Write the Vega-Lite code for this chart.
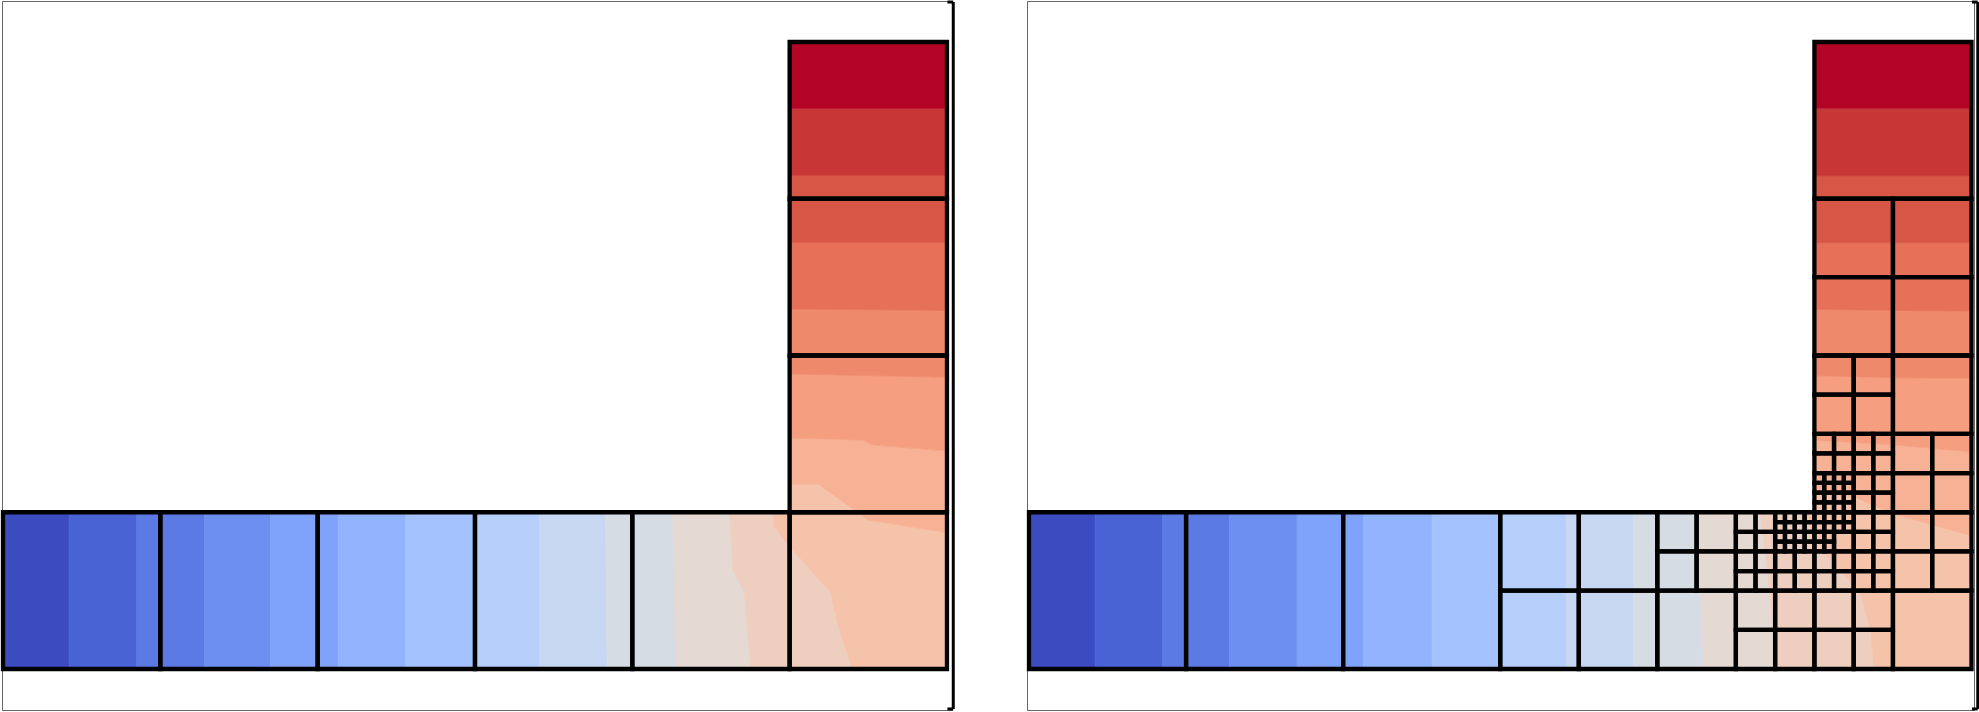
{
  "$schema": "https://vega.github.io/schema/vega-lite/v6.json",
  "padding": {"left": 0, "top": 0, "right": 0, "bottom": 0},
  "background": "white",
  "bounds": "flush",
  "spacing": 75,
  "config": {"view": {"stroke": "#666666", "strokeWidth": 1}},
  "resolve": {"scale": {"x": "independent", "y": "independent", "color": "independent", "stroke": "independent"}},
  "datasets": {
    "bandsA_L": [
      {"k":0,"y":0,"x":0,"x2":0.42},{"k":0,"y":1,"x":0,"x2":0.42},
      {"k":1,"y":0,"x":0.42,"x2":0.85},{"k":1,"y":1,"x":0.42,"x2":0.85},
      {"k":2,"y":0,"x":0.85,"x2":1.28},{"k":2,"y":1,"x":0.85,"x2":1.28},
      {"k":3,"y":0,"x":1.28,"x2":1.70},{"k":3,"y":1,"x":1.28,"x2":1.70},
      {"k":4,"y":0,"x":1.70,"x2":2.13},{"k":4,"y":1,"x":1.70,"x2":2.13},
      {"k":5,"y":0,"x":2.13,"x2":2.56},{"k":5,"y":1,"x":2.13,"x2":2.56},
      {"k":6,"y":0,"x":2.56,"x2":3.0},{"k":6,"y":1,"x":2.56,"x2":3.0},
      {"k":7,"y":0,"x":3.0,"x2":3.41},{"k":7,"y":1,"x":3.0,"x2":3.41},
      {"k":8,"y":0,"x":3.41,"x2":3.84},{"k":8,"y":1,"x":3.41,"x2":3.83},
      {"k":9,"y":0,"x":3.84,"x2":4.278},{"k":9,"y":1,"x":3.83,"x2":4.256},
      {"k":10,"y":0,"x":4.278,"x2":4.754},{"k":10,"y":0.5,"x":4.267,"x2":4.71},{"k":10,"y":0.63,"x":4.264,"x2":4.64},{"k":10,"y":1,"x":4.256,"x2":4.617},
      {"k":11,"y":0,"x":4.754,"x2":5.4},{"k":11,"y":0.29,"x":4.728,"x2":5.305},{"k":11,"y":0.49,"x":4.711,"x2":5.26},{"k":11,"y":0.63,"x":4.64,"x2":5.134},{"k":11,"y":0.78,"x":4.631,"x2":5.0},{"k":11,"y":0.91,"x":4.623,"x2":4.9},{"k":11,"y":1,"x":4.617,"x2":4.9}
    ],
    "bandsB_L": [
      {"k":12,"x":4.9,"y":0.91,"y2":1},{"k":12,"x":5.0,"y":0.78,"y2":1},{"k":12,"x":5.002,"y":0.778,"y2":1.18},{"k":12,"x":5.18,"y":0.579,"y2":1.18},{"k":12,"x":5.26,"y":0.49,"y2":1.1225},{"k":12,"x":5.305,"y":0.29,"y2":1.09},{"k":12,"x":5.4,"y":0,"y2":1.022},{"k":12,"x":5.5,"y":0,"y2":0.95},{"k":12,"x":6,"y":0,"y2":0.87},
      {"k":13,"x":5.0,"y":1.18,"y2":1.473},{"k":13,"x":5.18,"y":1.18,"y2":1.468},{"k":13,"x":5.47,"y":0.972,"y2":1.46},{"k":13,"x":5.5,"y":0.95,"y2":1.442},{"k":13,"x":5.52,"y":0.947,"y2":1.43},{"k":13,"x":6,"y":0.87,"y2":1.39},
      {"k":14,"x":5,"y":1.473,"y2":1.882},{"k":14,"x":5.47,"y":1.46,"y2":1.872},{"k":14,"x":5.52,"y":1.43,"y2":1.871},{"k":14,"x":6,"y":1.39,"y2":1.861},
      {"k":15,"x":5,"y":1.882,"y2":2.297},{"k":15,"x":6,"y":1.861,"y2":2.287},
      {"k":16,"x":5,"y":2.297,"y2":2.722},{"k":16,"x":6,"y":2.287,"y2":2.722},
      {"k":17,"x":5,"y":2.722,"y2":3.151},{"k":17,"x":6,"y":2.722,"y2":3.151},
      {"k":18,"x":5,"y":3.151,"y2":3.577},{"k":18,"x":6,"y":3.151,"y2":3.577},
      {"k":19,"x":5,"y":3.577,"y2":4},{"k":19,"x":6,"y":3.577,"y2":4}
    ],
    "cells_L": [
      {"x0":0,"x1":1,"y0":0,"y1":1},{"x0":1,"x1":2,"y0":0,"y1":1},{"x0":2,"x1":3,"y0":0,"y1":1},
      {"x0":3,"x1":4,"y0":0,"y1":1},{"x0":4,"x1":5,"y0":0,"y1":1},{"x0":5,"x1":6,"y0":0,"y1":1},
      {"x0":5,"x1":6,"y0":1,"y1":2},{"x0":5,"x1":6,"y0":2,"y1":3},{"x0":5,"x1":6,"y0":3,"y1":4}
    ],
    "bandsA_R": [
      {"k":0,"y":0,"x":0,"x2":0.421},{"k":0,"y":1,"x":0,"x2":0.421},
      {"k":1,"y":0,"x":0.421,"x2":0.85},{"k":1,"y":1,"x":0.421,"x2":0.85},
      {"k":2,"y":0,"x":0.85,"x2":1.276},{"k":2,"y":1,"x":0.85,"x2":1.276},
      {"k":3,"y":0,"x":1.276,"x2":1.706},{"k":3,"y":1,"x":1.276,"x2":1.706},
      {"k":4,"y":0,"x":1.706,"x2":2.128},{"k":4,"y":1,"x":1.706,"x2":2.128},
      {"k":5,"y":0,"x":2.128,"x2":2.566},{"k":5,"y":1,"x":2.128,"x2":2.566},
      {"k":6,"y":0,"x":2.566,"x2":3.0},{"k":6,"y":1,"x":2.566,"x2":3.0},
      {"k":7,"y":0,"x":3.0,"x2":3.42},{"k":7,"y":1,"x":3.0,"x2":3.419},
      {"k":8,"y":0,"x":3.42,"x2":3.847},{"k":8,"y":1,"x":3.419,"x2":3.847},
      {"k":9,"y":0,"x":3.847,"x2":4.295},{"k":9,"y":0.5,"x":3.847,"x2":4.275},{"k":9,"y":1,"x":3.847,"x2":4.25},
      {"k":10,"y":0,"x":4.295,"x2":4.75},{"k":10,"y":0.25,"x":4.285,"x2":4.74},{"k":10,"y":0.5,"x":4.275,"x2":4.715},{"k":10,"y":1,"x":4.25,"x2":4.655},
      {"k":11,"y":0,"x":4.75,"x2":5.38},{"k":11,"y":0.23,"x":4.741,"x2":5.36},{"k":11,"y":0.5,"x":4.715,"x2":5.29},{"k":11,"y":0.75,"x":4.685,"x2":5.05},{"k":11,"y":1,"x":4.655,"x2":4.93}
    ],
    "bandsB_R": [
      {"k":12,"x":4.93,"y":0.999,"y2":1},{"k":12,"x":5.0,"y":0.854,"y2":1},{"k":12,"x":5.002,"y":0.85,"y2":1.12},{"k":12,"x":5.05,"y":0.75,"y2":1.116},{"k":12,"x":5.25,"y":0.542,"y2":1.1},{"k":12,"x":5.29,"y":0.5,"y2":1.083},{"k":12,"x":5.36,"y":0.23,"y2":1.055},{"k":12,"x":5.38,"y":0,"y2":1.047},{"k":12,"x":5.5,"y":0,"y2":0.99},{"k":12,"x":6,"y":0,"y2":0.85},
      {"k":13,"x":5,"y":1.12,"y2":1.46},{"k":13,"x":5.25,"y":1.1,"y2":1.445},{"k":13,"x":5.5,"y":0.99,"y2":1.43},{"k":13,"x":6,"y":0.85,"y2":1.385},
      {"k":14,"x":5,"y":1.46,"y2":1.871},{"k":14,"x":5.25,"y":1.445,"y2":1.865},{"k":14,"x":5.5,"y":1.43,"y2":1.858},{"k":14,"x":6,"y":1.385,"y2":1.855},
      {"k":15,"x":5,"y":1.871,"y2":2.294},{"k":15,"x":5.25,"y":1.865,"y2":2.291},{"k":15,"x":5.5,"y":1.858,"y2":2.288},{"k":15,"x":6,"y":1.855,"y2":2.283},
      {"k":16,"x":5,"y":2.294,"y2":2.72},{"k":16,"x":6,"y":2.283,"y2":2.72},
      {"k":17,"x":5,"y":2.72,"y2":3.147},{"k":17,"x":6,"y":2.72,"y2":3.147},
      {"k":18,"x":5,"y":3.147,"y2":3.578},{"k":18,"x":6,"y":3.147,"y2":3.578},
      {"k":19,"x":5,"y":3.578,"y2":4},{"k":19,"x":6,"y":3.578,"y2":4}
    ],
    "cells_R": [
      {"x0":0,"x1":1,"y0":0,"y1":1},{"x0":1,"x1":2,"y0":0,"y1":1},{"x0":2,"x1":3,"y0":0,"y1":1},{"x0":5,"x1":6,"y0":3,"y1":4},
      {"x0":3,"x1":3.5,"y0":0,"y1":0.5},{"x0":3.5,"x1":4,"y0":0,"y1":0.5},{"x0":3,"x1":3.5,"y0":0.5,"y1":1},{"x0":3.5,"x1":4,"y0":0.5,"y1":1},
      {"x0":4,"x1":4.5,"y0":0,"y1":0.5},{"x0":5.5,"x1":6,"y0":0,"y1":0.5},
      {"x0":5,"x1":5.5,"y0":2,"y1":2.5},{"x0":5.5,"x1":6,"y0":2,"y1":2.5},{"x0":5,"x1":5.5,"y0":2.5,"y1":3},{"x0":5.5,"x1":6,"y0":2.5,"y1":3},
      {"x0":5.5,"x1":6,"y0":1.5,"y1":2},
      {"x0":4,"x1":4.25,"y0":0.5,"y1":0.75},{"x0":4.25,"x1":4.5,"y0":0.5,"y1":0.75},{"x0":4,"x1":4.25,"y0":0.75,"y1":1},{"x0":4.25,"x1":4.5,"y0":0.75,"y1":1},
      {"x0":4.5,"x1":4.75,"y0":0,"y1":0.25},{"x0":4.75,"x1":5,"y0":0,"y1":0.25},{"x0":4.5,"x1":4.75,"y0":0.25,"y1":0.5},{"x0":4.75,"x1":5,"y0":0.25,"y1":0.5},
      {"x0":5,"x1":5.25,"y0":0,"y1":0.25},{"x0":5.25,"x1":5.5,"y0":0,"y1":0.25},{"x0":5,"x1":5.25,"y0":0.25,"y1":0.5},{"x0":5.25,"x1":5.5,"y0":0.25,"y1":0.5},
      {"x0":5.5,"x1":5.75,"y0":0.5,"y1":0.75},{"x0":5.75,"x1":6,"y0":0.5,"y1":0.75},{"x0":5.5,"x1":5.75,"y0":0.75,"y1":1},{"x0":5.75,"x1":6,"y0":0.75,"y1":1},
      {"x0":5.5,"x1":5.75,"y0":1,"y1":1.25},{"x0":5.75,"x1":6,"y0":1,"y1":1.25},{"x0":5.5,"x1":5.75,"y0":1.25,"y1":1.5},{"x0":5.75,"x1":6,"y0":1.25,"y1":1.5},
      {"x0":5,"x1":5.25,"y0":1.5,"y1":1.75},{"x0":5.25,"x1":5.5,"y0":1.5,"y1":1.75},{"x0":5,"x1":5.25,"y0":1.75,"y1":2},{"x0":5.25,"x1":5.5,"y0":1.75,"y1":2},
      {"x0":4.5,"x1":4.625,"y0":0.5,"y1":0.625},{"x0":4.625,"x1":4.75,"y0":0.5,"y1":0.625},{"x0":4.75,"x1":4.875,"y0":0.5,"y1":0.625},{"x0":4.875,"x1":5,"y0":0.5,"y1":0.625},
      {"x0":4.5,"x1":4.625,"y0":0.625,"y1":0.75},{"x0":4.625,"x1":4.75,"y0":0.625,"y1":0.75},{"x0":4.75,"x1":4.875,"y0":0.625,"y1":0.75},{"x0":4.875,"x1":5,"y0":0.625,"y1":0.75},
      {"x0":4.5,"x1":4.625,"y0":0.75,"y1":0.875},{"x0":4.625,"x1":4.75,"y0":0.75,"y1":0.875},{"x0":4.5,"x1":4.625,"y0":0.875,"y1":1},{"x0":4.625,"x1":4.75,"y0":0.875,"y1":1},
      {"x0":5.125,"x1":5.25,"y0":0.75,"y1":0.875},
      {"x0":5.25,"x1":5.375,"y0":0.75,"y1":0.875},{"x0":5.375,"x1":5.5,"y0":0.75,"y1":0.875},{"x0":5.25,"x1":5.375,"y0":0.875,"y1":1},{"x0":5.375,"x1":5.5,"y0":0.875,"y1":1},
      {"x0":5,"x1":5.125,"y0":0.5,"y1":0.625},{"x0":5.125,"x1":5.25,"y0":0.5,"y1":0.625},{"x0":5.25,"x1":5.375,"y0":0.5,"y1":0.625},{"x0":5.375,"x1":5.5,"y0":0.5,"y1":0.625},
      {"x0":5,"x1":5.125,"y0":0.625,"y1":0.75},{"x0":5.125,"x1":5.25,"y0":0.625,"y1":0.75},{"x0":5.25,"x1":5.375,"y0":0.625,"y1":0.75},{"x0":5.375,"x1":5.5,"y0":0.625,"y1":0.75},
      {"x0":5.25,"x1":5.375,"y0":1,"y1":1.125},{"x0":5.375,"x1":5.5,"y0":1,"y1":1.125},{"x0":5.25,"x1":5.375,"y0":1.125,"y1":1.25},{"x0":5.375,"x1":5.5,"y0":1.125,"y1":1.25},
      {"x0":5,"x1":5.125,"y0":1.25,"y1":1.375},{"x0":5.125,"x1":5.25,"y0":1.25,"y1":1.375},{"x0":5.25,"x1":5.375,"y0":1.25,"y1":1.375},{"x0":5.375,"x1":5.5,"y0":1.25,"y1":1.375},
      {"x0":5,"x1":5.125,"y0":1.375,"y1":1.5},{"x0":5.125,"x1":5.25,"y0":1.375,"y1":1.5},{"x0":5.25,"x1":5.375,"y0":1.375,"y1":1.5},{"x0":5.375,"x1":5.5,"y0":1.375,"y1":1.5},
      {"x0":4.75,"x1":4.8125,"y0":0.75,"y1":0.8125},{"x0":4.8125,"x1":4.875,"y0":0.75,"y1":0.8125},{"x0":4.875,"x1":4.9375,"y0":0.75,"y1":0.8125},{"x0":4.9375,"x1":5,"y0":0.75,"y1":0.8125},
      {"x0":4.75,"x1":4.8125,"y0":0.8125,"y1":0.875},{"x0":4.8125,"x1":4.875,"y0":0.8125,"y1":0.875},{"x0":4.875,"x1":4.9375,"y0":0.8125,"y1":0.875},{"x0":4.9375,"x1":5,"y0":0.8125,"y1":0.875},
      {"x0":4.75,"x1":4.8125,"y0":0.875,"y1":0.9375},{"x0":4.8125,"x1":4.875,"y0":0.875,"y1":0.9375},{"x0":4.875,"x1":4.9375,"y0":0.875,"y1":0.9375},{"x0":4.9375,"x1":5,"y0":0.875,"y1":0.9375},
      {"x0":4.75,"x1":4.8125,"y0":0.9375,"y1":1},{"x0":4.8125,"x1":4.875,"y0":0.9375,"y1":1},{"x0":4.875,"x1":4.9375,"y0":0.9375,"y1":1},{"x0":4.9375,"x1":5,"y0":0.9375,"y1":1},
      {"x0":5,"x1":5.0625,"y0":0.875,"y1":0.9375},{"x0":5.0625,"x1":5.125,"y0":0.875,"y1":0.9375},{"x0":5.125,"x1":5.1875,"y0":0.875,"y1":0.9375},{"x0":5.1875,"x1":5.25,"y0":0.875,"y1":0.9375},
      {"x0":5,"x1":5.0625,"y0":0.9375,"y1":1},{"x0":5.0625,"x1":5.125,"y0":0.9375,"y1":1},{"x0":5.125,"x1":5.1875,"y0":0.9375,"y1":1},{"x0":5.1875,"x1":5.25,"y0":0.9375,"y1":1},
      {"x0":5,"x1":5.0625,"y0":0.75,"y1":0.8125},{"x0":5.0625,"x1":5.125,"y0":0.75,"y1":0.8125},{"x0":5,"x1":5.0625,"y0":0.8125,"y1":0.875},{"x0":5.0625,"x1":5.125,"y0":0.8125,"y1":0.875},
      {"x0":5,"x1":5.0625,"y0":1,"y1":1.0625},{"x0":5.0625,"x1":5.125,"y0":1,"y1":1.0625},{"x0":5.125,"x1":5.1875,"y0":1,"y1":1.0625},{"x0":5.1875,"x1":5.25,"y0":1,"y1":1.0625},
      {"x0":5,"x1":5.0625,"y0":1.0625,"y1":1.125},{"x0":5.0625,"x1":5.125,"y0":1.0625,"y1":1.125},{"x0":5.125,"x1":5.1875,"y0":1.0625,"y1":1.125},{"x0":5.1875,"x1":5.25,"y0":1.0625,"y1":1.125},
      {"x0":5,"x1":5.0625,"y0":1.125,"y1":1.1875},{"x0":5.0625,"x1":5.125,"y0":1.125,"y1":1.1875},{"x0":5.125,"x1":5.1875,"y0":1.125,"y1":1.1875},{"x0":5.1875,"x1":5.25,"y0":1.125,"y1":1.1875},
      {"x0":5,"x1":5.0625,"y0":1.1875,"y1":1.25},{"x0":5.0625,"x1":5.125,"y0":1.1875,"y1":1.25},{"x0":5.125,"x1":5.1875,"y0":1.1875,"y1":1.25},{"x0":5.1875,"x1":5.25,"y0":1.1875,"y1":1.25}
    ],
    "bracket": [
      {"x0":6.04,"x1":6.04,"y0":-0.255,"y1":4.255},
      {"x0":6.003,"x1":6.04,"y0":4.255,"y1":4.255},
      {"x0":6.003,"x1":6.04,"y0":-0.255,"y1":-0.255}
    ]
  },
  "hconcat": [
    {
      "width": 950, "height": 709,
      "layer": [
        {
          "data": {"name": "bandsA_L"},
          "mark": {"type": "area", "orient": "horizontal", "strokeWidth": 0.7},
          "encoding": {
            "y": {"field": "y", "type": "quantitative", "scale": {"domain": [-0.2616, 4.2616], "nice": false, "zero": false}, "axis": null},
            "x": {"field": "x", "type": "quantitative", "scale": {"domain": [-0.00636, 6.032], "nice": false, "zero": false}, "axis": null},
            "x2": {"field": "x2"},
            "color": {"field": "k", "type": "ordinal", "legend": null, "scale": {"domain": [0,1,2,3,4,5,6,7,8,9,10,11,12,13,14,15,16,17,18,19], "range": ["#3b4cc0","#4a63d4","#5b7ae4","#6d8ff1","#7fa2fa","#92b4fe","#a4c3fe","#b6cefa","#c7d7f1","#d6dce4","#e4d9d3","#eecfbf","#f5c2aa","#f7b295","#f59f80","#ef896c","#e67158","#d85646","#c73735","#b40426"]}},
            "stroke": {"field": "k", "type": "ordinal", "legend": null, "scale": {"domain": [0,1,2,3,4,5,6,7,8,9,10,11,12,13,14,15,16,17,18,19], "range": ["#3b4cc0","#4a63d4","#5b7ae4","#6d8ff1","#7fa2fa","#92b4fe","#a4c3fe","#b6cefa","#c7d7f1","#d6dce4","#e4d9d3","#eecfbf","#f5c2aa","#f7b295","#f59f80","#ef896c","#e67158","#d85646","#c73735","#b40426"]}}
          }
        },
        {
          "data": {"name": "bandsB_L"},
          "mark": {"type": "area", "orient": "vertical", "strokeWidth": 0.7},
          "encoding": {
            "x": {"field": "x", "type": "quantitative", "scale": {"domain": [-0.00636, 6.032], "nice": false, "zero": false}, "axis": null},
            "y": {"field": "y", "type": "quantitative", "scale": {"domain": [-0.2616, 4.2616], "nice": false, "zero": false}, "axis": null},
            "y2": {"field": "y2"},
            "color": {"field": "k", "type": "ordinal", "legend": null, "scale": {"domain": [0,1,2,3,4,5,6,7,8,9,10,11,12,13,14,15,16,17,18,19], "range": ["#3b4cc0","#4a63d4","#5b7ae4","#6d8ff1","#7fa2fa","#92b4fe","#a4c3fe","#b6cefa","#c7d7f1","#d6dce4","#e4d9d3","#eecfbf","#f5c2aa","#f7b295","#f59f80","#ef896c","#e67158","#d85646","#c73735","#b40426"]}},
            "stroke": {"field": "k", "type": "ordinal", "legend": null, "scale": {"domain": [0,1,2,3,4,5,6,7,8,9,10,11,12,13,14,15,16,17,18,19], "range": ["#3b4cc0","#4a63d4","#5b7ae4","#6d8ff1","#7fa2fa","#92b4fe","#a4c3fe","#b6cefa","#c7d7f1","#d6dce4","#e4d9d3","#eecfbf","#f5c2aa","#f7b295","#f59f80","#ef896c","#e67158","#d85646","#c73735","#b40426"]}}
          }
        },
        {
          "data": {"name": "cells_L"},
          "mark": {"type": "rect", "filled": false, "stroke": "#000000", "strokeWidth": 4.3},
          "encoding": {
            "x": {"field": "x0", "type": "quantitative", "scale": {"domain": [-0.00636, 6.032], "nice": false, "zero": false}, "axis": null},
            "x2": {"field": "x1"},
            "y": {"field": "y0", "type": "quantitative", "scale": {"domain": [-0.2616, 4.2616], "nice": false, "zero": false}, "axis": null},
            "y2": {"field": "y1"}
          }
        },
        {
          "data": {"name": "bracket"},
          "mark": {"type": "rule", "color": "#000000", "strokeWidth": 3},
          "encoding": {
            "x": {"field": "x0", "type": "quantitative", "scale": {"domain": [-0.00636, 6.032], "nice": false, "zero": false}, "axis": null},
            "x2": {"field": "x1"},
            "y": {"field": "y0", "type": "quantitative", "scale": {"domain": [-0.2616, 4.2616], "nice": false, "zero": false}, "axis": null},
            "y2": {"field": "y1"}
          }
        }
      ]
    },
    {
      "width": 947, "height": 709,
      "layer": [
        {
          "data": {"name": "bandsA_R"},
          "mark": {"type": "area", "orient": "horizontal", "strokeWidth": 0.7},
          "encoding": {
            "y": {"field": "y", "type": "quantitative", "scale": {"domain": [-0.2616, 4.2616], "nice": false, "zero": false}, "axis": null},
            "x": {"field": "x", "type": "quantitative", "scale": {"domain": [-0.0127, 6.016], "nice": false, "zero": false}, "axis": null},
            "x2": {"field": "x2"},
            "color": {"field": "k", "type": "ordinal", "legend": null, "scale": {"domain": [0,1,2,3,4,5,6,7,8,9,10,11,12,13,14,15,16,17,18,19], "range": ["#3b4cc0","#4a63d4","#5b7ae4","#6d8ff1","#7fa2fa","#92b4fe","#a4c3fe","#b6cefa","#c7d7f1","#d6dce4","#e4d9d3","#eecfbf","#f5c2aa","#f7b295","#f59f80","#ef896c","#e67158","#d85646","#c73735","#b40426"]}},
            "stroke": {"field": "k", "type": "ordinal", "legend": null, "scale": {"domain": [0,1,2,3,4,5,6,7,8,9,10,11,12,13,14,15,16,17,18,19], "range": ["#3b4cc0","#4a63d4","#5b7ae4","#6d8ff1","#7fa2fa","#92b4fe","#a4c3fe","#b6cefa","#c7d7f1","#d6dce4","#e4d9d3","#eecfbf","#f5c2aa","#f7b295","#f59f80","#ef896c","#e67158","#d85646","#c73735","#b40426"]}}
          }
        },
        {
          "data": {"name": "bandsB_R"},
          "mark": {"type": "area", "orient": "vertical", "strokeWidth": 0.7},
          "encoding": {
            "x": {"field": "x", "type": "quantitative", "scale": {"domain": [-0.0127, 6.016], "nice": false, "zero": false}, "axis": null},
            "y": {"field": "y", "type": "quantitative", "scale": {"domain": [-0.2616, 4.2616], "nice": false, "zero": false}, "axis": null},
            "y2": {"field": "y2"},
            "color": {"field": "k", "type": "ordinal", "legend": null, "scale": {"domain": [0,1,2,3,4,5,6,7,8,9,10,11,12,13,14,15,16,17,18,19], "range": ["#3b4cc0","#4a63d4","#5b7ae4","#6d8ff1","#7fa2fa","#92b4fe","#a4c3fe","#b6cefa","#c7d7f1","#d6dce4","#e4d9d3","#eecfbf","#f5c2aa","#f7b295","#f59f80","#ef896c","#e67158","#d85646","#c73735","#b40426"]}},
            "stroke": {"field": "k", "type": "ordinal", "legend": null, "scale": {"domain": [0,1,2,3,4,5,6,7,8,9,10,11,12,13,14,15,16,17,18,19], "range": ["#3b4cc0","#4a63d4","#5b7ae4","#6d8ff1","#7fa2fa","#92b4fe","#a4c3fe","#b6cefa","#c7d7f1","#d6dce4","#e4d9d3","#eecfbf","#f5c2aa","#f7b295","#f59f80","#ef896c","#e67158","#d85646","#c73735","#b40426"]}}
          }
        },
        {
          "data": {"name": "cells_R"},
          "mark": {"type": "rect", "filled": false, "stroke": "#000000", "strokeWidth": 4.3},
          "encoding": {
            "x": {"field": "x0", "type": "quantitative", "scale": {"domain": [-0.0127, 6.016], "nice": false, "zero": false}, "axis": null},
            "x2": {"field": "x1"},
            "y": {"field": "y0", "type": "quantitative", "scale": {"domain": [-0.2616, 4.2616], "nice": false, "zero": false}, "axis": null},
            "y2": {"field": "y1"}
          }
        },
        {
          "data": {"name": "bracket"},
          "mark": {"type": "rule", "color": "#000000", "strokeWidth": 3},
          "encoding": {
            "x": {"field": "x0", "type": "quantitative", "scale": {"domain": [-0.0127, 6.016], "nice": false, "zero": false}, "axis": null},
            "x2": {"field": "x1"},
            "y": {"field": "y0", "type": "quantitative", "scale": {"domain": [-0.2616, 4.2616], "nice": false, "zero": false}, "axis": null},
            "y2": {"field": "y1"}
          }
        }
      ]
    }
  ]
}
